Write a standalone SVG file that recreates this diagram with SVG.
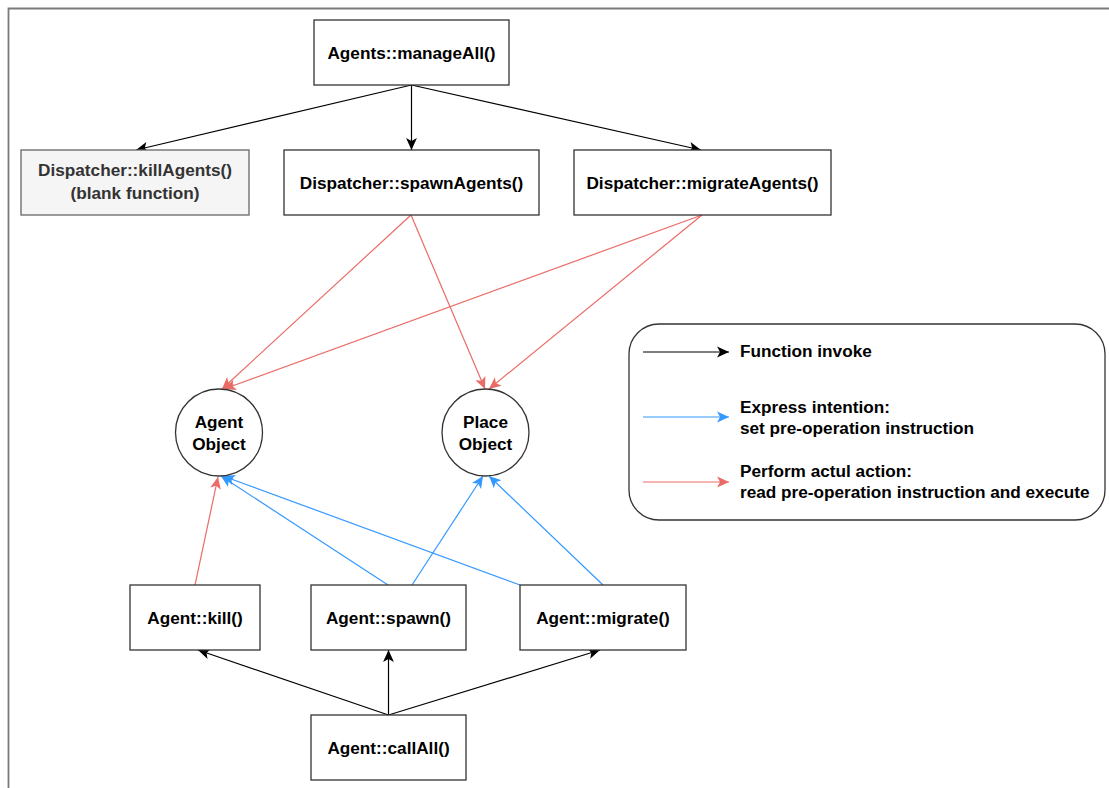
<svg xmlns="http://www.w3.org/2000/svg" width="1109" height="788" viewBox="0 0 1109 788">
<style>
.box{fill:#ffffff;stroke:#333333;stroke-width:1.3}
.gbox{fill:#f5f5f5;stroke:#666666;stroke-width:1.3}
.t{font-family:"Liberation Sans",Arial,sans-serif;font-weight:bold;font-size:17.2px;fill:#000000;text-anchor:middle}
.tg{fill:#333333}
.lt{text-anchor:start}
.k{stroke:#000000;stroke-width:1.2;fill:none}
.r{stroke:#EA6B66;stroke-width:1.2;fill:none}
.b{stroke:#3399FF;stroke-width:1.2;fill:none}
</style>
<defs>
<marker id="ak" markerUnits="userSpaceOnUse" markerWidth="13" markerHeight="13" viewBox="0 0 12 11" refX="11.5" refY="5.5" orient="auto"><path d="M0.5,0.5 L11.5,5.5 L0.5,10.5 L3.2,5.5 z" fill="#000000"/></marker>
<marker id="ar" markerUnits="userSpaceOnUse" markerWidth="13" markerHeight="13" viewBox="0 0 12 11" refX="11.5" refY="5.5" orient="auto"><path d="M0.5,0.5 L11.5,5.5 L0.5,10.5 L3.2,5.5 z" fill="#EA6B66"/></marker>
<marker id="ab" markerUnits="userSpaceOnUse" markerWidth="13" markerHeight="13" viewBox="0 0 12 11" refX="11.5" refY="5.5" orient="auto"><path d="M0.5,0.5 L11.5,5.5 L0.5,10.5 L3.2,5.5 z" fill="#3399FF"/></marker>
</defs>
<rect width="1109" height="788" fill="#ffffff"/>
<path d="M8.5,788 V8.5 H1109" fill="none" stroke="#7a7a7a" stroke-width="1.8"/>

<g id="connectors">
<line class="k" x1="411.5" y1="85" x2="136" y2="150" marker-end="url(#ak)"/>
<line class="k" x1="411.5" y1="85" x2="411.5" y2="150" marker-end="url(#ak)"/>
<line class="k" x1="411.5" y1="85" x2="701" y2="150" marker-end="url(#ak)"/>
<line class="r" x1="411" y1="215" x2="222" y2="389" marker-end="url(#ar)"/>
<line class="r" x1="411" y1="215" x2="485" y2="389" marker-end="url(#ar)"/>
<line class="r" x1="702" y1="215" x2="224" y2="389" marker-end="url(#ar)"/>
<line class="r" x1="702" y1="215" x2="489" y2="389" marker-end="url(#ar)"/>
<line class="r" x1="195" y1="585" x2="218" y2="477" marker-end="url(#ar)"/>
<line class="b" x1="388" y1="585" x2="221" y2="476" marker-end="url(#ab)"/>
<line class="b" x1="520" y1="585" x2="223" y2="476" marker-end="url(#ab)"/>
<line class="b" x1="412" y1="585" x2="483" y2="476" marker-end="url(#ab)"/>
<line class="b" x1="603" y1="585" x2="489" y2="476" marker-end="url(#ab)"/>
<line class="k" x1="388.5" y1="715" x2="198" y2="650" marker-end="url(#ak)"/>
<line class="k" x1="388.5" y1="715" x2="388.5" y2="650" marker-end="url(#ak)"/>
<line class="k" x1="388.5" y1="715" x2="600" y2="650" marker-end="url(#ak)"/>
</g>

<g id="manageAll"><rect class="box" x="314" y="20" width="195" height="65"/><text class="t" x="411.5" y="58.5">Agents::manageAll()</text></g>
<g id="killAgents"><rect class="gbox" x="21" y="150" width="228" height="65"/><text class="t tg" x="135" y="176">Dispatcher::killAgents()</text><text class="t tg" x="135" y="199">(blank function)</text></g>
<g id="spawnAgents"><rect class="box" x="284" y="150" width="255" height="65"/><text class="t" x="411.5" y="188.5">Dispatcher::spawnAgents()</text></g>
<g id="migrateAgents"><rect class="box" x="574" y="150" width="257" height="65"/><text class="t" x="702.5" y="188.5">Dispatcher::migrateAgents()</text></g>
<g id="agentObject"><circle cx="219" cy="432.5" r="43.5" fill="#ffffff" stroke="#333333" stroke-width="1.3"/><text class="t" x="219" y="428">Agent</text><text class="t" x="219" y="450">Object</text></g>
<g id="placeObject"><circle cx="485.5" cy="432.5" r="43.5" fill="#ffffff" stroke="#333333" stroke-width="1.3"/><text class="t" x="485.5" y="428">Place</text><text class="t" x="485.5" y="450">Object</text></g>
<g id="kill"><rect class="box" x="130" y="585" width="130" height="65"/><text class="t" x="195" y="623.5">Agent::kill()</text></g>
<g id="spawn"><rect class="box" x="311" y="585" width="155" height="65"/><text class="t" x="388.5" y="623.5">Agent::spawn()</text></g>
<g id="migrate"><rect class="box" x="520" y="585" width="166" height="65"/><text class="t" x="603" y="623.5">Agent::migrate()</text></g>
<g id="callAll"><rect class="box" x="311" y="715" width="155" height="65"/><text class="t" x="388.5" y="753.5">Agent::callAll()</text></g>

<g id="legend">
<rect x="629" y="324" width="476" height="196" rx="30" ry="30" fill="#ffffff" stroke="#333333" stroke-width="1.3"/>
<line class="k" x1="643" y1="352" x2="729" y2="352" marker-end="url(#ak)"/>
<line class="b" x1="643" y1="417" x2="729" y2="417" marker-end="url(#ab)"/>
<line class="r" x1="643" y1="482" x2="729" y2="482" marker-end="url(#ar)"/>
<text class="t lt" x="740" y="357">Function invoke</text>
<text class="t lt" x="740" y="413">Express intention:</text>
<text class="t lt" x="740" y="434">set pre-operation instruction</text>
<text class="t lt" x="740" y="477">Perform actul action:</text>
<text class="t lt" x="740" y="498">read pre-operation instruction and execute</text>
</g>
</svg>
